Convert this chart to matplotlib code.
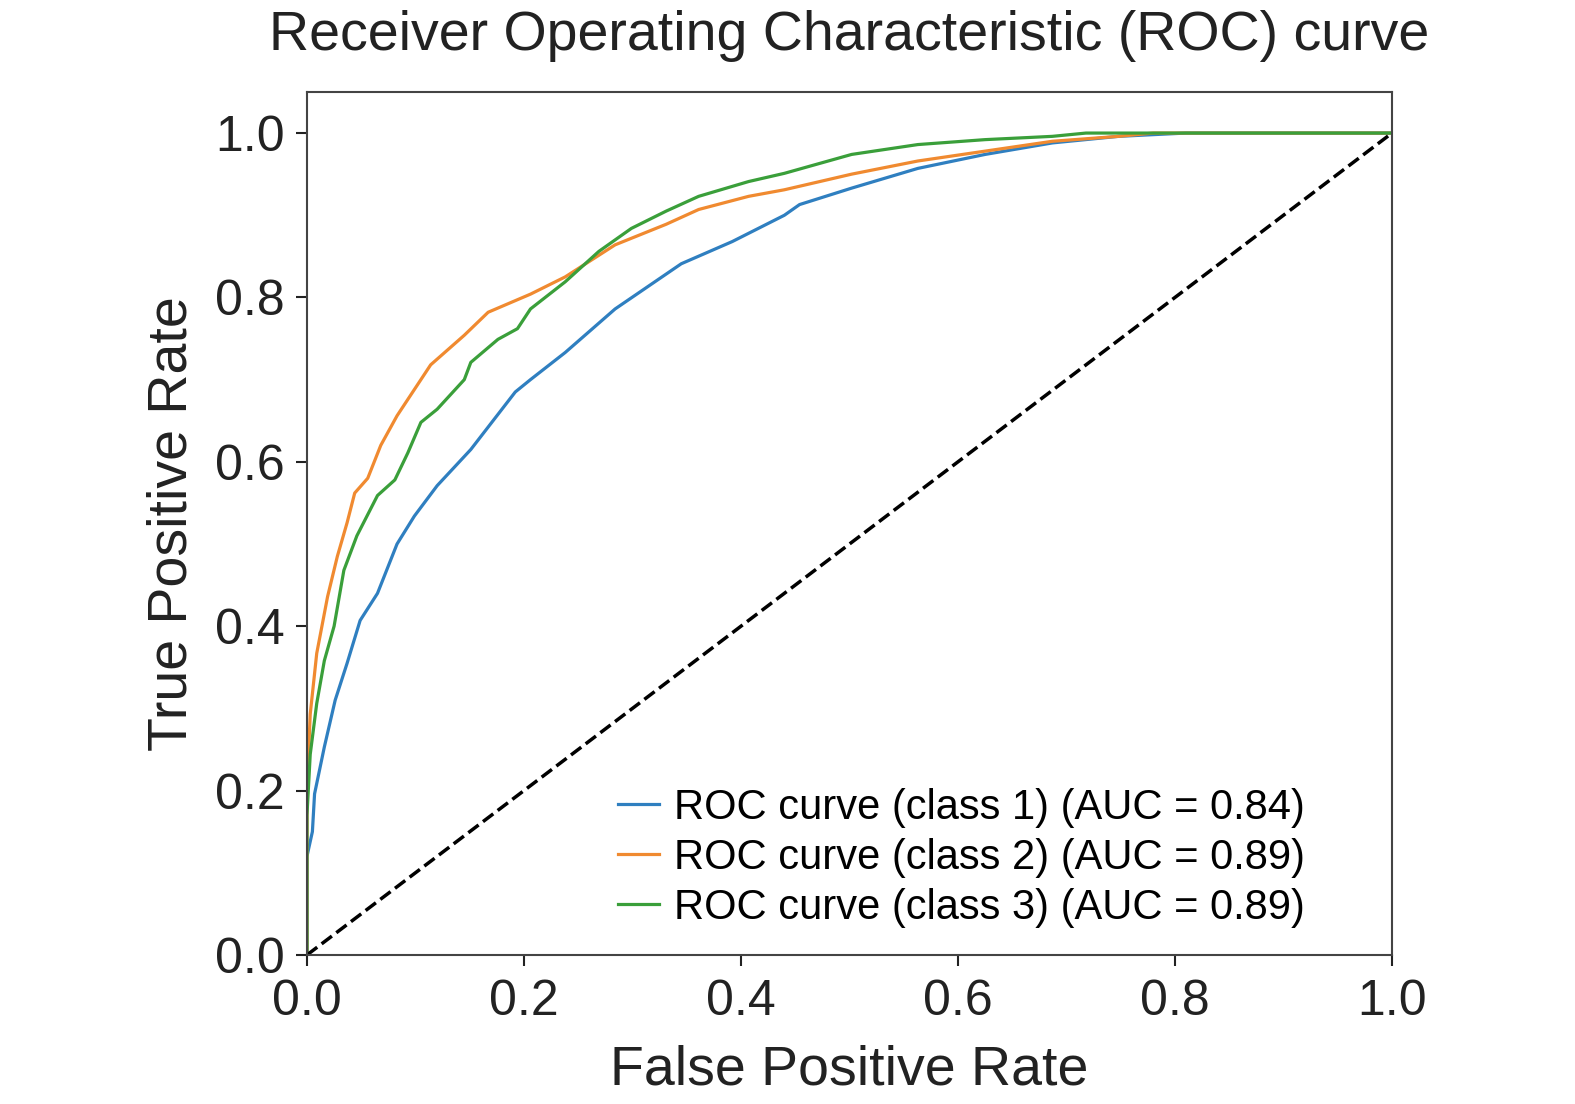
import matplotlib
matplotlib.use("Agg")
import matplotlib.pyplot as plt

plt.rcParams["font.family"] = ["Liberation Sans", "DejaVu Sans"]

# values
fpr_1 = [0.0, 0.0, 0.005, 0.007, 0.016, 0.026, 0.037, 0.049, 0.065, 0.083, 0.099, 0.12,
         0.151, 0.192, 0.206, 0.238, 0.284, 0.345, 0.392, 0.44, 0.454, 0.502, 0.563,
         0.625, 0.687, 0.748, 0.81, 1.0]
tpr_1 = [0.0, 0.12, 0.15, 0.196, 0.253, 0.31, 0.355, 0.407, 0.44, 0.50, 0.534, 0.571,
         0.615, 0.685, 0.70, 0.733, 0.786, 0.841, 0.868, 0.90, 0.913, 0.933, 0.957,
         0.974, 0.988, 0.996, 1.0, 1.0]

fpr_2 = [0.0, 0.0, 0.003, 0.009, 0.019, 0.028, 0.037, 0.044, 0.056, 0.068, 0.083, 0.114,
         0.145, 0.167, 0.206, 0.238, 0.284, 0.331, 0.361, 0.407, 0.44, 0.502, 0.563,
         0.625, 0.687, 0.748, 0.78, 1.0]
tpr_2 = [0.0, 0.2, 0.293, 0.367, 0.436, 0.485, 0.526, 0.562, 0.58, 0.62, 0.656, 0.718,
         0.754, 0.782, 0.804, 0.825, 0.864, 0.889, 0.907, 0.923, 0.931, 0.95, 0.966,
         0.978, 0.99, 0.996, 1.0, 1.0]

fpr_3 = [0.0, 0.0, 0.003, 0.009, 0.016, 0.025, 0.034, 0.046, 0.065, 0.081, 0.093, 0.105,
         0.12, 0.145, 0.151, 0.176, 0.194, 0.206, 0.238, 0.269, 0.299, 0.331, 0.361,
         0.407, 0.44, 0.502, 0.563, 0.625, 0.687, 0.718, 1.0]
tpr_3 = [0.0, 0.17, 0.244, 0.306, 0.358, 0.40, 0.468, 0.51, 0.559, 0.578, 0.611, 0.648,
         0.664, 0.70, 0.721, 0.749, 0.762, 0.786, 0.819, 0.856, 0.884, 0.905, 0.923,
         0.941, 0.951, 0.974, 0.986, 0.992, 0.996, 1.0, 1.0]

auc_values = [0.84, 0.89, 0.89]
colors = ["#2f7fc0", "#f08a30", "#3a9f3a"]

fig = plt.figure(figsize=(15.75, 11.04), dpi=100)
ax = fig.add_axes([0.1949, 0.135, 0.6889, 0.7817])

curves = [(fpr_1, tpr_1), (fpr_2, tpr_2), (fpr_3, tpr_3)]
for i, (fpr, tpr) in enumerate(curves):
    ax.plot(fpr, tpr, color=colors[i], linewidth=2.3,
            label=f"ROC curve (class {i + 1}) (AUC = {auc_values[i]:.2f})")

ax.plot([0, 1], [0, 1], "k--", linewidth=2.5)

ax.set_xlim(0.0, 1.0)
ax.set_ylim(0.0, 1.05)
ax.set_xticks([0.0, 0.2, 0.4, 0.6, 0.8, 1.0])
ax.set_yticks([0.0, 0.2, 0.4, 0.6, 0.8, 1.0])
ax.tick_params(labelsize=36, length=8, width=1.5, colors="#222222")
ax.tick_params(axis="x", pad=9)
ax.tick_params(axis="y", pad=8)
for s in ax.spines.values():
    s.set_color("#444444")
    s.set_linewidth(1.5)

ax.set_xlabel("False Positive Rate", fontsize=40, color="#222222", labelpad=14)
ax.set_ylabel("True Positive Rate", fontsize=40, color="#222222", labelpad=12)
ax.set_title("Receiver Operating Characteristic (ROC) curve", fontsize=40,
             color="#222222", pad=30)

ax.legend(loc="lower right", bbox_to_anchor=(0.935, 0.012), borderaxespad=0,
          fontsize=30, frameon=False, handlelength=1.0,
          handletextpad=0.35, labelspacing=0.24)

fig.savefig("out.png", dpi=100)
plt.close(fig)
